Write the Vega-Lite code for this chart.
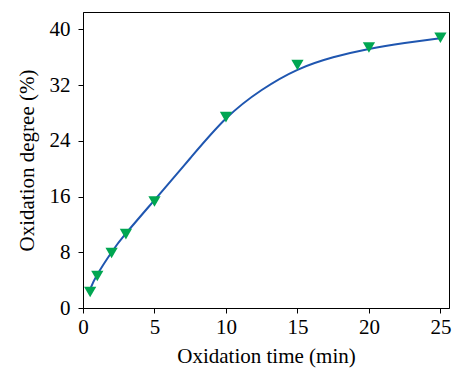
{
  "$schema": "https://vega.github.io/schema/vega-lite/v6.json",
  "autosize": "none",
  "width": 366,
  "height": 296,
  "padding": {"left": 83, "top": 12, "right": 3, "bottom": 64},
  "background": "white",
  "config": {
    "view": {"stroke": "black", "strokeWidth": 1},
    "axis": {
      "labelFont": "Liberation Serif",
      "titleFont": "Liberation Serif",
      "labelFontSize": 21,
      "titleFontSize": 21,
      "titleFontWeight": "normal",
      "labelColor": "black",
      "titleColor": "black",
      "domainColor": "black",
      "tickColor": "black",
      "grid": false
    }
  },
  "datasets": {
    "points": [
      {"t": 0.5, "d": 2.3},
      {"t": 1, "d": 4.6},
      {"t": 2, "d": 7.9},
      {"t": 3, "d": 10.6},
      {"t": 5, "d": 15.3},
      {"t": 10, "d": 27.4},
      {"t": 15, "d": 34.9},
      {"t": 20, "d": 37.4},
      {"t": 25, "d": 38.8}
    ],
    "curve": [
      {"t": 0.5, "d": 2.7},
      {"t": 1, "d": 4.8},
      {"t": 2, "d": 8.0},
      {"t": 3, "d": 10.7},
      {"t": 5, "d": 15.5},
      {"t": 7.5, "d": 21.5},
      {"t": 10, "d": 27.2},
      {"t": 12.5, "d": 31.3},
      {"t": 15, "d": 34.2},
      {"t": 17.5, "d": 36.0},
      {"t": 20, "d": 37.2},
      {"t": 22.5, "d": 38.05},
      {"t": 25, "d": 38.75}
    ]
  },
  "layer": [
    {
      "data": {"name": "curve"},
      "mark": {"type": "line", "color": "#1f56b0", "strokeWidth": 2, "interpolate": "natural"},
      "encoding": {
        "x": {
          "field": "t", "type": "quantitative",
          "scale": {"domain": [0, 25.6], "nice": false, "zero": false},
          "axis": {
            "title": "Oxidation time (min)",
            "values": [0, 2.5, 5, 7.5, 10, 12.5, 15, 17.5, 20, 22.5, 25],
            "labelExpr": "datum.value % 5 == 0 ? datum.label : ''",
            "tickSize": {"condition": {"test": "datum.value % 5 == 0", "value": 5}, "value": 3},
            "labelPadding": 3,
            "titlePadding": 8,
            "labelFlush": false
          }
        },
        "y": {
          "field": "d", "type": "quantitative",
          "scale": {"domain": [0, 42.5], "nice": false},
          "axis": {
            "title": "Oxidation degree (%)",
            "values": [0, 4, 8, 12, 16, 20, 24, 28, 32, 36, 40],
            "labelExpr": "datum.value % 8 == 0 ? datum.label : ''",
            "tickSize": {"condition": {"test": "datum.value % 8 == 0", "value": 5}, "value": 3},
            "labelPadding": 8,
            "titlePadding": 12,
            "labelFlush": false
          }
        }
      }
    },
    {
      "data": {"name": "points"},
      "mark": {"type": "point", "shape": "triangle-down", "filled": true, "color": "#00a651", "opacity": 1, "size": 150},
      "encoding": {
        "x": {"field": "t", "type": "quantitative"},
        "y": {"field": "d", "type": "quantitative"}
      }
    }
  ]
}
